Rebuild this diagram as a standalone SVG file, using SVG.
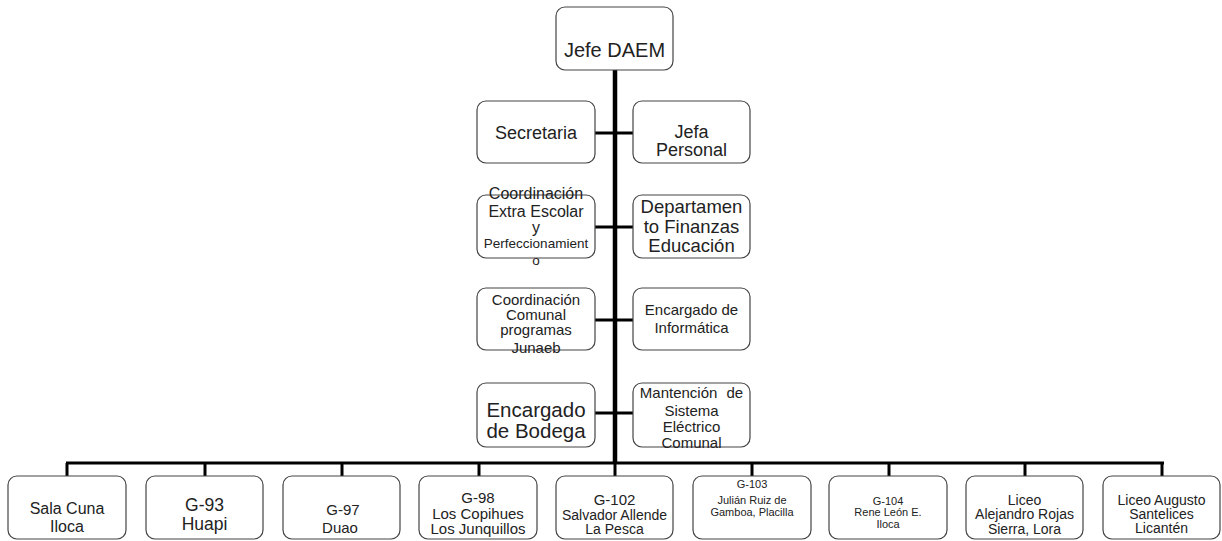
<svg xmlns="http://www.w3.org/2000/svg" width="1222" height="541" viewBox="0 0 1222 541">
<style>
.box{fill:#fff;stroke:#444;stroke-width:1.2}
text{font-family:"Liberation Sans",Arial,sans-serif;fill:#222;text-anchor:middle}
.c{stroke:#000;fill:none}
</style>
<rect width="1222" height="541" fill="#fff"/>
<g id="connectors">
<line class="c" x1="615" y1="70" x2="615" y2="464" stroke-width="4.5"/>
<line class="c" x1="595" y1="133" x2="633" y2="133" stroke-width="3"/>
<line class="c" x1="595" y1="227" x2="633" y2="227" stroke-width="3"/>
<line class="c" x1="595" y1="320" x2="633" y2="320" stroke-width="3"/>
<line class="c" x1="595" y1="413" x2="633" y2="413" stroke-width="3"/>
<line class="c" x1="66" y1="463" x2="1164" y2="463" stroke-width="3"/>
<path class="c" stroke-width="3" d="M67,463V476M205,463V476M342,463V476M479,463V476M615,463V476M752,463V476M889,463V476M1025,463V476M1162,463V476"/>
</g>
<g id="jefe"><rect class="box" x="556" y="7" width="117" height="63" rx="9"/><text x="614.5" y="57" font-size="20">Jefe DAEM</text></g>
<g id="secretaria"><rect class="box" x="477" y="101" width="118" height="62" rx="9"/><text x="536" y="139" font-size="18">Secretaria</text></g>
<g id="jefa"><rect class="box" x="633" y="101" width="117" height="62" rx="9"/><text x="691.5" font-size="18"><tspan x="691.5" y="138">Jefa</tspan><tspan x="691.5" y="156">Personal</tspan></text></g>
<g id="coord-extra"><rect class="box" x="477" y="195" width="118" height="63" rx="9"/><text x="536" font-size="16"><tspan x="536" y="199">Coordinación</tspan><tspan x="536" y="217">Extra Escolar</tspan><tspan x="536" y="233">y</tspan><tspan x="536" y="248" font-size="13.5">Perfeccionamient</tspan><tspan x="536" y="265" font-size="13.5">o</tspan></text></g>
<g id="depto"><rect class="box" x="633" y="195" width="117" height="63" rx="9"/><text x="691.5" font-size="18.5"><tspan x="691.5" y="213">Departamen</tspan><tspan x="691.5" y="233">to Finanzas</tspan><tspan x="691.5" y="252">Educación</tspan></text></g>
<g id="coord-comunal"><rect class="box" x="477" y="288" width="118" height="62" rx="9"/><text x="536" font-size="15"><tspan x="536" y="305">Coordinación</tspan><tspan x="536" y="320">Comunal</tspan><tspan x="536" y="335">programas</tspan><tspan x="536" y="353">Junaeb</tspan></text></g>
<g id="informatica"><rect class="box" x="633" y="288" width="117" height="62" rx="9"/><text x="691.5" font-size="15"><tspan x="691.5" y="315">Encargado de</tspan><tspan x="691.5" y="333">Informática</tspan></text></g>
<g id="bodega"><rect class="box" x="477" y="383" width="118" height="64" rx="9"/><text x="536" font-size="20.5"><tspan x="536" y="417">Encargado</tspan><tspan x="536" y="438">de Bodega</tspan></text></g>
<g id="mantencion"><rect class="box" x="633" y="383" width="117" height="64" rx="9"/><text x="691.5" font-size="15"><tspan x="691.5" y="398" word-spacing="5">Mantención de</tspan><tspan x="691.5" y="416">Sistema</tspan><tspan x="691.5" y="432">Eléctrico</tspan><tspan x="691.5" y="448">Comunal</tspan></text></g>
<g id="sala-cuna"><rect class="box" x="8" y="476" width="118" height="63" rx="9"/><text x="67" font-size="16"><tspan x="67" y="514">Sala Cuna</tspan><tspan x="67" y="532">Iloca</tspan></text></g>
<g id="g93"><rect class="box" x="146" y="476" width="117" height="63" rx="9"/><text x="204.5" font-size="17.5"><tspan x="204.5" y="511">G-93</tspan><tspan x="204.5" y="530">Huapi</tspan></text></g>
<g id="g97"><rect class="box" x="283" y="476" width="117" height="63" rx="9"/><text x="341.5" font-size="15"><tspan x="343" y="515">G-97</tspan><tspan x="340" y="533">Duao</tspan></text></g>
<g id="g98"><rect class="box" x="419" y="476" width="118" height="63" rx="9"/><text x="478" font-size="15"><tspan x="478" y="503">G-98</tspan><tspan x="478" y="519">Los Copihues</tspan><tspan x="478" y="534">Los Junquillos</tspan></text></g>
<g id="g102"><rect class="box" x="556" y="476" width="117" height="63" rx="9"/><text x="614.5" font-size="14"><tspan x="614.5" y="505" font-size="15">G-102</tspan><tspan x="614.5" y="520">Salvador Allende</tspan><tspan x="614.5" y="534">La Pesca</tspan></text></g>
<g id="g103"><rect class="box" x="693" y="476" width="118" height="63" rx="9"/><text x="752" font-size="11"><tspan x="752" y="488">G-103</tspan><tspan x="752" y="504">Julián Ruiz de</tspan><tspan x="752" y="516">Gamboa, Placilla</tspan></text></g>
<g id="g104"><rect class="box" x="829" y="476" width="118" height="63" rx="9"/><text x="888" font-size="11"><tspan x="888" y="505">G-104</tspan><tspan x="888" y="516">Rene León E.</tspan><tspan x="888" y="528">Iloca</tspan></text></g>
<g id="liceo-rojas"><rect class="box" x="966" y="476" width="117" height="63" rx="9"/><text x="1024.5" font-size="14"><tspan x="1024.5" y="505">Liceo</tspan><tspan x="1024.5" y="519">Alejandro Rojas</tspan><tspan x="1024.5" y="534">Sierra, Lora</tspan></text></g>
<g id="liceo-santelices"><rect class="box" x="1103" y="476" width="117" height="63" rx="9"/><text x="1161.5" font-size="14"><tspan x="1161.5" y="505">Liceo Augusto</tspan><tspan x="1161.5" y="519">Santelices</tspan><tspan x="1161.5" y="533">Licantén</tspan></text></g>
</svg>
